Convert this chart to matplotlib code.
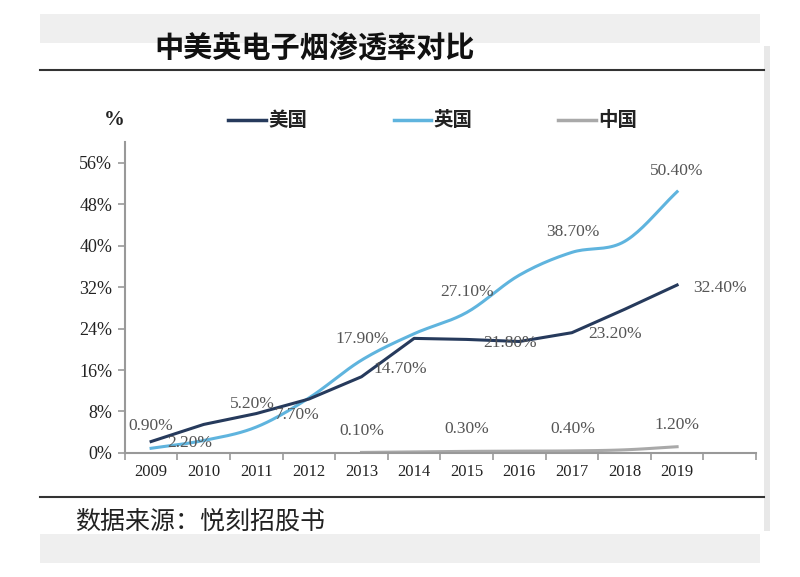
import numpy as np
import matplotlib
matplotlib.use("Agg")
import matplotlib.pyplot as plt
from matplotlib.lines import Line2D
from matplotlib.patches import Rectangle

plt.rcParams['font.family'] = ['Noto Sans CJK SC', 'DejaVu Sans']

# data (penetration, %)
years = ['2009', '2010', '2011', '2012', '2013', '2014', '2015', '2016', '2017', '2018', '2019']
us = [2.2, 5.5, 7.6, 10.4, 14.7, 22.1, 21.9, 21.5, 23.2, 27.7, 32.4]
uk = [0.9, 2.4, 5.0, 10.6, 17.9, 23.0, 27.1, 34.3, 38.7, 40.8, 50.4]
cn_years = ['2013', '2014', '2015', '2016', '2017', '2018', '2019']
cn = [0.1, 0.2, 0.3, 0.35, 0.4, 0.6, 1.2]

# data labels as printed on the chart
label_texts = ['0.90%', '2.20%', '5.20%', '7.70%', '17.90%', '14.70%', '0.10%',
               '27.10%', '21.80%', '0.30%', '38.70%', '23.20%', '0.40%',
               '50.40%', '32.40%', '1.20%']
label_pos = [(0.0, 5.2), (0.74, 1.9), (1.93, 9.4), (2.77, 7.3), (4.02, 21.9), (4.73, 16.2), (4.0, 4.2),
             (6.0, 31.0), (6.82, 21.3), (6.0, 4.6), (8.02, 42.7), (8.82, 22.9), (8.02, 4.6),
             (10.0, 54.4), (10.81, 31.9), (10.0, 5.4)]

c_us = '#263a5c'
c_uk = '#5fb4de'
c_cn = '#a9a9a9'


def smooth(x, y, n=20):
    # catmull-rom curve through the points (like excel's smoothed line)
    x = np.asarray(x, float)
    y = np.asarray(y, float)
    px = np.concatenate([[2 * x[0] - x[1]], x, [2 * x[-1] - x[-2]]])
    py = np.concatenate([[2 * y[0] - y[1]], y, [2 * y[-1] - y[-2]]])
    t = np.linspace(0, 1, n, endpoint=False)
    xs, ys = [], []
    for i in range(1, len(px) - 2):
        for p, out in ((px, xs), (py, ys)):
            p0, p1, p2, p3 = p[i - 1], p[i], p[i + 1], p[i + 2]
            out.extend(0.5 * (2 * p1 + (-p0 + p2) * t + (2 * p0 - 5 * p1 + 4 * p2 - p3) * t ** 2
                              + (-p0 + 3 * p1 - 3 * p2 + p3) * t ** 3))
    xs.append(x[-1])
    ys.append(y[-1])
    return np.array(xs), np.array(ys)


fig = plt.figure(figsize=(8, 5.77), dpi=100)
fig.patch.set_facecolor('white')

# page frame
fig.patches.append(Rectangle((0.05, 0.925), 0.90, 0.05, transform=fig.transFigure,
                             facecolor='#efefef', edgecolor='none', zorder=0))
fig.patches.append(Rectangle((0.05, 0.025), 0.90, 0.05, transform=fig.transFigure,
                             facecolor='#efefef', edgecolor='none', zorder=0))
fig.patches.append(Rectangle((0.95, 0.08), 0.012, 0.84, transform=fig.transFigure,
                             facecolor='#e8e8e8', edgecolor='none', zorder=0))
fig.patches.append(Rectangle((0.04, 0.075), 0.915, 0.85, transform=fig.transFigure,
                             facecolor='white', edgecolor='none', zorder=0))

# title and rules
fig.text(0.193, 0.918, '中美英电子烟渗透率对比', fontsize=21, fontweight='bold',
         ha='left', va='center', color='#111111')
fig.add_artist(Line2D([0.05, 0.955], [0.878, 0.878], color='#333333', lw=1.5))
fig.add_artist(Line2D([0.05, 0.955], [0.138, 0.138], color='#333333', lw=1.5))
fig.text(0.094, 0.095, '数据来源：悦刻招股书', fontsize=18, ha='left', va='center', color='#222222')

# legend
fig.text(0.143, 0.792, '%', fontsize=15, fontweight='bold', family='Liberation Serif',
         ha='center', va='center', color='#222222')
for x0, col, name in ((0.285, c_us, '美国'), (0.492, c_uk, '英国'), (0.698, c_cn, '中国')):
    fig.add_artist(Line2D([x0, x0 + 0.047], [0.792, 0.792], color=col, lw=2.5))
    fig.text(x0 + 0.05, 0.792, name, fontsize=14, fontweight='bold', ha='left', va='center',
             color='#222222')

ax = fig.add_axes([0.156, 0.215, 0.789, 0.539])
ax.set_zorder(3)
x = np.arange(len(years))
xc = np.array([years.index(y) for y in cn_years])

sx, sy = smooth(x, uk)
ax.plot(sx, sy, color=c_uk, lw=2.2, zorder=3)
ax.plot(x, us, color=c_us, lw=2.2, zorder=4)
sx, sy = smooth(xc, cn)
ax.plot(sx, sy, color=c_cn, lw=2.2, zorder=2)

for txt, (lx, ly) in zip(label_texts, label_pos):
    ax.text(lx, ly, txt, fontsize=12.5, family='Liberation Serif', color='#555555',
            ha='center', va='center', zorder=5)

ax.set_xlim(-0.5, 11.5)
ax.set_ylim(0, 60)
ax.set_yticks(np.arange(0, 57, 8))
ax.set_yticklabels([f'{v}%' for v in range(0, 57, 8)], family='Liberation Serif', fontsize=13,
                   color='#222222')
ax.set_xticks(x)
ax.set_xticklabels(years, family='Liberation Serif', fontsize=12, color='#222222')
ax.set_xticks(np.arange(-0.5, 12, 1), minor=True)
ax.tick_params(axis='x', which='major', length=0, pad=8)
ax.tick_params(axis='x', which='minor', length=5, color='#999999', width=1.2)
ax.tick_params(axis='y', length=5, color='#999999', width=1.2, pad=4)

for s in ('top', 'right'):
    ax.spines[s].set_visible(False)
for s in ('left', 'bottom'):
    ax.spines[s].set_color('#999999')
    ax.spines[s].set_linewidth(1.5)
ax.set_facecolor('none')

fig.savefig('out.png', dpi=100)
